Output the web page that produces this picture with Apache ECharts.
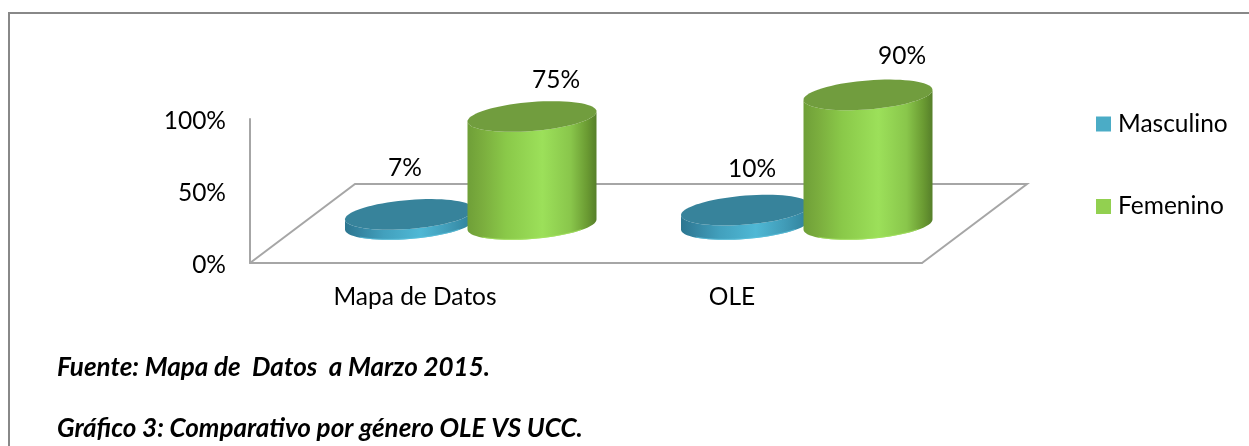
<!DOCTYPE html>
<html><head><meta charset="utf-8">
<style>html,body{margin:0;padding:0;background:#fff}#c{width:1249px;height:446px}</style>
<script src="https://cdn.jsdelivr.net/npm/echarts@6/dist/echarts.min.js"></script>
</head><body><div id="c"></div>
<script>
const categories = ['Mapa de Datos', 'OLE'];
const masculino = [7, 10];
const femenino = [75, 90];
const yTicks = [0, 50, 100];
const seriesNames = ['Masculino', 'Femenino'];
const captions = ['Fuente: Mapa de  Datos  a Marzo 2015.', 'Gráfico 3: Comparativo por género OLE VS UCC.'];

// layout (not data)
const FONT = 'Lato, "Open Sans", sans-serif';
const DEPTH_X = 105, DEPTH_Y = 79;      // floor depth
const BASE_LIFT = 38.5;                 // cylinders stand this far back on the floor
const RX = 64.5, RY = 14.5, SHEAR = 5;  // sheared ellipse of a cylinder cap
const maleNudge = [[-4.5, -46], [6.5, -41]];
const femaleNudge = [[24, -36], [34, -38.5]];

function cap(cx, cy) {
  const pts = [];
  for (let i = 0; i < 72; i++) {
    const t = i / 72 * Math.PI * 2;
    pts.push([cx + RX * Math.cos(t), cy + RY * Math.sin(t) - SHEAR * Math.cos(t)]);
  }
  return pts;
}
function body(cx, topY, baseY) {
  const pts = [];
  for (let i = 0; i <= 36; i++) {
    const t = i / 36 * Math.PI;
    pts.push([cx + RX * Math.cos(t), topY + RY * Math.sin(t) - SHEAR * Math.cos(t)]);
  }
  for (let i = 0; i <= 36; i++) {
    const t = Math.PI - i / 36 * Math.PI;
    pts.push([cx + RX * Math.cos(t), baseY + RY * Math.sin(t) - SHEAR * Math.cos(t)]);
  }
  return pts;
}
function grad(stops) {
  return new echarts.graphic.LinearGradient(0, 0, 1, 0, stops.map(s => ({offset: s[0], color: s[1]})));
}
function cylinder(xOffset, sideStops, capColor, rimColor, nudges, values) {
  return function (params, api) {
    const i = api.value(0);
    const v = api.value(1);
    const top = api.coord([i, v]);
    const zero = api.coord([i, 0]);
    const cx = top[0] + xOffset;
    const topY = top[1] - BASE_LIFT, baseY = zero[1] - BASE_LIFT;
    const rim = [];
    for (let k = 8; k <= 28; k++) {
      const t = k / 36 * Math.PI;
      rim.push([cx + RX * Math.cos(t), baseY - 0.5 + RY * Math.sin(t) - SHEAR * Math.cos(t)]);
    }
    return {
      type: 'group',
      children: [
        {type: 'polygon', shape: {points: body(cx, topY, baseY)}, style: {fill: grad(sideStops)}},
        {type: 'polyline', shape: {points: rim}, style: {stroke: rimColor, lineWidth: 1, fill: null, opacity: 0.7}},
        {type: 'polygon', shape: {points: cap(cx, topY)}, style: {fill: capColor}},
        {type: 'text', x: cx + nudges[i][0], y: topY + nudges[i][1],
         style: {text: values[i] + '%', font: '24.5px ' + FONT, fill: '#000', align: 'center', verticalAlign: 'middle'}}
      ]
    };
  };
}
function floor(params, api) {
  const c = params.coordSys;
  const b = c.y + c.height, l = c.x, r = c.x + c.width;
  return {
    type: 'polyline',
    shape: {points: [[l, b], [l + DEPTH_X, b - DEPTH_Y], [r + DEPTH_X, b - DEPTH_Y], [r, b]]},
    style: {stroke: '#a6a6a6', lineWidth: 2, fill: null}
  };
}
const greenStops = [[0, '#6f9f38'], [0.12, '#7bae3e'], [0.3, '#8ac949'], [0.58, '#9ce05a'], [0.8, '#89c64b'], [0.93, '#6a9a32'], [1, '#567f2a']];
const blueStops = [[0, '#2c7690'], [0.1, '#34839f'], [0.3, '#42a0bd'], [0.58, '#4fb8d5'], [0.8, '#419cb8'], [1, '#2f7f99']];

const chart = echarts.init(document.getElementById('c'), null, {renderer: 'canvas'});
chart.setOption({
  backgroundColor: '#fff',
  animation: false,
  title: captions.map((t, i) => ({
    text: t, left: 57, top: [355, 416][i], padding: 0,
    textStyle: {fontFamily: FONT, fontStyle: 'italic', fontWeight: 'bold', fontSize: 26, color: '#000'}
  })),
  graphic: [{
    type: 'polyline', silent: true,
    shape: {points: [[9, 446], [9, 13], [1249, 13]]},
    style: {stroke: '#888', lineWidth: 2, fill: null}
  }],
  legend: {
    data: seriesNames, orient: 'vertical', left: 1096, top: 111.5, padding: 0,
    itemWidth: 15, itemHeight: 15, itemGap: 57.5, icon: 'rect', itemStyle: {borderWidth: 0},
    textStyle: {fontFamily: FONT, fontSize: 24.5, color: '#000', padding: [0, 0, 0, 2]}
  },
  grid: {left: 250, top: 119, width: 672, height: 144},
  xAxis: {
    type: 'category', data: categories.map((c, i) => ({value: c, textStyle: {padding: [0, [6, 44][i], 0, 0]}})),
    axisLine: {lineStyle: {color: '#a6a6a6', width: 2}}, axisTick: {show: false},
    axisLabel: {fontFamily: FONT, fontSize: 24.5, color: '#000', margin: 22}
  },
  yAxis: {
    type: 'value', min: yTicks[0], max: yTicks[2], interval: yTicks[1],
    axisLine: {show: true, lineStyle: {color: '#a6a6a6', width: 2}}, axisTick: {show: false},
    splitLine: {show: false},
    axisLabel: {
      fontFamily: FONT, fontSize: 24.5, color: '#000', margin: 24, padding: [4, 0, 0, 0],
      formatter: '{v|{value}%}', rich: {v: {fontFamily: FONT, fontSize: 24.5, color: '#000'}}
    }
  },
  series: [
    {type: 'custom', name: 'floor', silent: true, renderItem: floor, data: [[0, 0]], z: 1, clip: false},
    {type: 'custom', name: seriesNames[0], itemStyle: {color: '#4bacc6'}, z: 2, clip: false,
     renderItem: cylinder(-8.5, blueStops, '#37839b', '#5cc3de', maleNudge, masculino),
     data: masculino.map((v, i) => [i, v])},
    {type: 'custom', name: seriesNames[1], itemStyle: {color: '#92d050'}, z: 3, clip: false,
     renderItem: cylinder(114, greenStops, '#719d3e', '#a6e663', femaleNudge, femenino),
     data: femenino.map((v, i) => [i, v])}
  ]
});
</script></body></html>
